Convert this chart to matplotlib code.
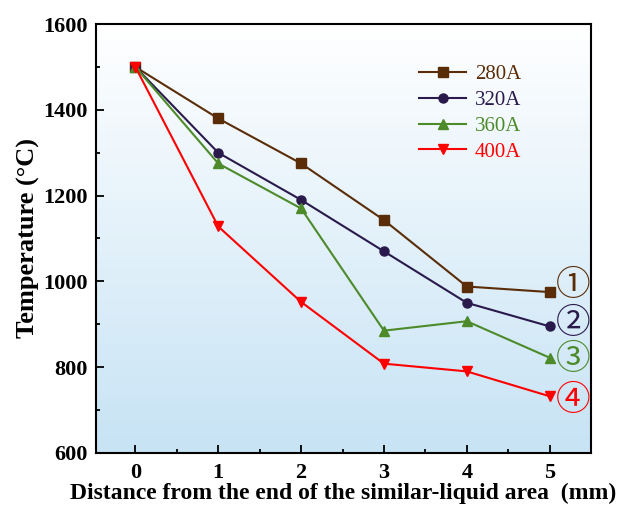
import matplotlib
matplotlib.use("Agg")
import matplotlib.pyplot as plt
from matplotlib.ticker import MultipleLocator
import numpy as np

# distance from the end of the similar-liquid area (mm)
distance = [0, 1, 2, 3, 4, 5]

# temperature (C) for each welding current
t_280 = [1500, 1380, 1275, 1143, 988, 975]
t_320 = [1500, 1300, 1190, 1070, 950, 895]
t_360 = [1500, 1275, 1170, 885, 907, 822]
t_400 = [1500, 1128, 952, 808, 790, 732]

labels = ["280A", "320A", "360A", "400A"]
tags = ["\u2460", "\u2461", "\u2462", "\u2463"]

plt.rcParams['font.family'] = ['Liberation Serif', 'DejaVu Sans']

fig = plt.figure(figsize=(6.27, 5.14), dpi=100)
ax = fig.add_axes([0.1526, 0.119, 0.7900, 0.834])

# background gradient, white on top to light blue at the bottom
grad = np.linspace(0, 1, 256).reshape(-1, 1)
top = np.array([1.0, 1.0, 1.0])
bot = np.array([0.78, 0.89, 0.96])
img = top * (1 - grad[..., None]) + bot * grad[..., None]
ax.imshow(img, extent=[0, 1, 0, 1], transform=ax.transAxes, aspect='auto', zorder=0)

colors = ['#5a2d08', '#2a1a4c', '#4c8a2a', '#ff0000']
markers = ['s', 'o', '^', 'v']
series = [t_280, t_320, t_360, t_400]
tag_dy = [5, 2, -1, -3]   # small nudges so the circled numbers sit like the original

for s, c, m, lab, tag, dy in zip(series, colors, markers, labels, tags, tag_dy):
    ax.plot(distance, s, color=c, marker=m, markersize=6.5, lw=1.5, label=lab, zorder=3)
    ax.annotate(tag, xy=(distance[-1], s[-1]), xytext=(17, dy), textcoords='offset points',
                color=c, fontsize=25, va='center', ha='center',
                family=['Noto Sans CJK SC', 'DejaVu Sans'], annotation_clip=False)

ax.set_xlim(-0.48, 5.5)
ax.set_ylim(600, 1600)
ax.xaxis.set_major_locator(MultipleLocator(1))
ax.xaxis.set_minor_locator(MultipleLocator(0.5))
ax.yaxis.set_major_locator(MultipleLocator(200))
ax.yaxis.set_minor_locator(MultipleLocator(100))
ax.tick_params(which='both', direction='in', width=1.3, labelsize=16)
ax.tick_params(which='major', length=6)
ax.tick_params(which='minor', length=3)
ax.tick_params(axis='y', pad=6)
ax.tick_params(axis='x', pad=7)
for lbl in ax.get_xticklabels() + ax.get_yticklabels():
    lbl.set_fontweight('bold')
for sp in ax.spines.values():
    sp.set_linewidth(1.5)

ax.set_xlabel("Distance from the end of the similar-liquid area  (mm)",
              fontsize=17, fontweight='bold', labelpad=0)
ax.set_ylabel("Temperature (\u00b0C)", fontsize=19, fontweight='bold', labelpad=2)

leg = ax.legend(loc='upper left', bbox_to_anchor=(0.635, 0.925), frameon=False,
                labelcolor='linecolor', fontsize=15, handlelength=2.3,
                handletextpad=0.4, labelspacing=0.3, borderaxespad=0)

plt.savefig("out.png", dpi=100)
